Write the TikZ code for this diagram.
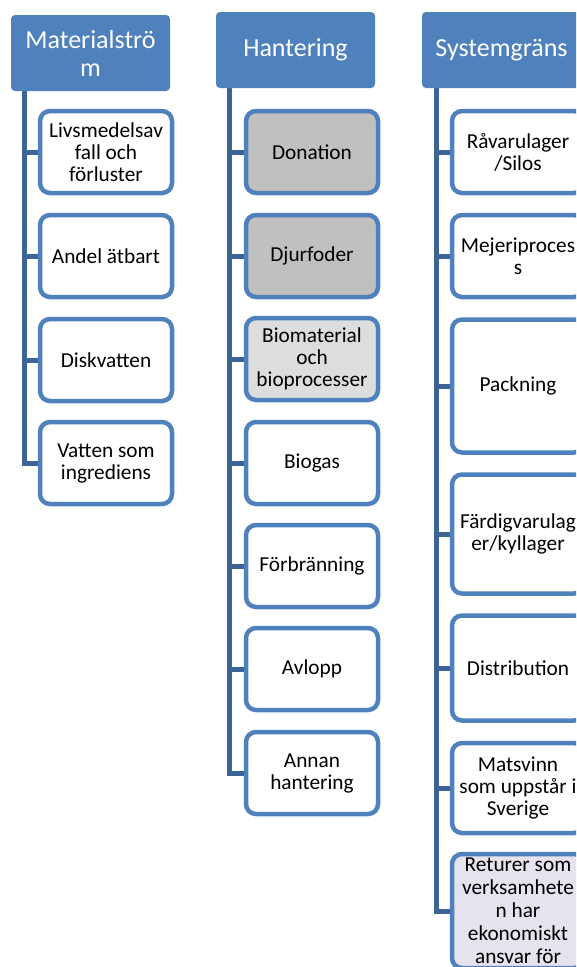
\documentclass[tikz,border=0pt]{standalone}
\usepackage{fontspec}
\setmainfont{Carlito}
\usetikzlibrary{backgrounds}
\definecolor{hdrc}{HTML}{4F81BD}
\definecolor{bordc}{HTML}{4F81BD}
\definecolor{linec}{HTML}{3C6496}
\definecolor{grayA}{HTML}{C0C0C0}
\definecolor{grayB}{HTML}{DDDDDD}
\definecolor{lav}{HTML}{E6E3EE}
\begin{document}
\begin{tikzpicture}[x=1pt,y=-1pt,
  hdr/.style={draw=none, fill=hdrc, rounded corners=4pt, minimum width=159pt, minimum height=76pt,
    text=white, font=\fontsize{26}{28}\selectfont, align=center, inner sep=0pt},
  child/.style={draw=bordc, line width=4.5pt, fill=white, rounded corners=10pt, minimum width=132pt,
    minimum height=82pt, inner sep=0pt, font=\fontsize{21.3}{22}\selectfont, align=center, text=black},
  txt/.style={inner sep=0pt, font=\fontsize{21.3}{23}\selectfont, align=center, text=black},
  conn/.style={draw=linec, line width=5pt}]
\useasboundingbox (0,0) rectangle (576,967);
\clip (0,0) rectangle (576,967);

% headers
\node[hdr] (mh) at (90.5,53) {Materialströ\\m};
\node[hdr] (hh) at (295.5,50) {Hantering};
\node[hdr] (sh) at (501.5,50) {Systemgräns};

\coordinate (m0) at (24.5,91);
\coordinate (h0) at (229.5,88);
\coordinate (s0) at (436,88);

% material column
\node[child] (m1) at (106,152) {Livsmedelsav\\fall och\\förluster};
\node[child] (m2) at (106,256) {Andel ätbart};
\node[child] (m3) at (106,360) {Diskvatten};
\node[child] (m4) at (106,463) {Vatten som\\ingrediens};

% hantering column
\node[child, fill=grayA] (h1) at (312,152) {Donation};
\node[child, fill=grayA] (h2) at (312,256) {Djurfoder};
\node[child, fill=grayB] (h3) at (312,359) {Biomaterial\\och\\bioprocesser};
\node[child] (h4) at (312,463) {Biogas};
\node[child] (h5) at (312,566) {Förbränning};
\node[child] (h6) at (312,669) {Avlopp};
\node[child] (h7) at (312,773) {Annan\\hantering};

% systemgrans column
\node[child] (s1) at (518,152) {Råvarulager\\/Silos};
\node[child] (s2) at (518,256) {Mejeriproces\\s};
\node[child, minimum height=133pt] (s3) at (518,386) {Packning};
\node[child, minimum height=119pt] (s4) at (518,534) {Färdigvarulag\\er/kyllager};
\node[child, minimum height=105pt] (s5) at (518,668) {Distribution};
\node[child, minimum height=90pt] (s6) at (518,788) {Matsvinn\\som uppstår i\\Sverige};
\node[child, fill=lav, minimum height=114pt] (s7) at (518,911) {};
\node[txt] (s7t) at (s7.center) {Returer som\\verksamhete\\n har\\ekonomiskt\\ansvar för};

% connectors (drawn behind boxes)
\begin{scope}[on background layer]
  \draw[conn] (m0) |- (m4.west);
  \foreach \n in {m1,m2,m3} \draw[conn] (\n.west) -- (\n.west -| m0);
  \draw[conn] (h0) |- (h7.west);
  \foreach \n in {h1,h2,h3,h4,h5,h6} \draw[conn] (\n.west) -- (\n.west -| h0);
  \draw[conn] (s0) |- (s7.west);
  \foreach \n in {s1,s2,s3,s4,s5,s6} \draw[conn] (\n.west) -- (\n.west -| s0);
\end{scope}
\end{tikzpicture}
\end{document}
